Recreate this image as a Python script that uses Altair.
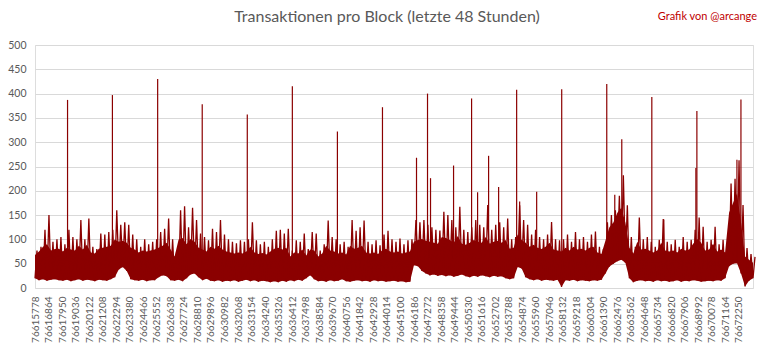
import altair as alt
import pandas as pd

START = 76615778
SPAN = 57600
STEP = 320

# upper edge of the dense band, one value every 320 blocks
upper = [
    77, 85, 120, 150, 95, 100, 105, 90, 120, 105,
    100, 140, 100, 143, 85, 80, 112, 110, 115, 120,
    160, 130, 135, 130, 110, 100, 85, 100, 90, 95,
    100, 115, 122, 143, 100, 75, 160, 168, 125, 165,
    140, 112, 105, 98, 122, 115, 140, 110, 100, 95,
    92, 98, 95, 100, 135, 98, 90, 95, 85, 100,
    118, 120, 112, 122, 77, 98, 95, 112, 80, 115,
    112, 77, 90, 139, 105, 100, 90, 95, 85, 140,
    118, 125, 139, 95, 90, 98, 88, 110, 118, 100,
    95, 102, 90, 98, 100, 140, 135, 140, 130, 125,
    120, 118, 157, 150, 140, 125, 167, 120, 115, 125,
    140, 130, 125, 171, 120, 130, 135, 125, 143, 100,
    105, 170, 140, 130, 110, 120, 105, 100, 110, 136,
    100, 98, 100, 110, 95, 115, 100, 105, 95, 110,
    116, 85, 80, 135, 150, 160, 190, 232, 170, 105,
    85, 145, 100, 105, 95, 85, 99, 142, 95, 90,
    99, 85, 105, 95, 99, 120, 145, 126, 95, 99,
    126, 90, 99, 85, 215, 225, 263, 171, 82, 70, 64,
]

# top of the solid part of the band
core = [
    68, 75, 85, 90, 77, 80, 81, 75, 83, 79,
    77, 87, 79, 89, 73, 71, 81, 83, 85, 87,
    100, 95, 97, 93, 83, 79, 73, 77, 75, 77,
    79, 83, 87, 93, 79, 65, 100, 103, 90, 101,
    95, 83, 79, 75, 85, 81, 87, 79, 75, 73,
    71, 73, 71, 75, 85, 73, 70, 72, 69, 75,
    81, 83, 79, 83, 65, 73, 71, 79, 67, 79,
    77, 65, 71, 87, 77, 75, 71, 73, 69, 87,
    81, 83, 87, 73, 71, 73, 70, 77, 81, 75,
    73, 75, 71, 73, 75, 95, 99, 101, 97, 95,
    93, 91, 105, 103, 99, 93, 107, 91, 89, 93,
    99, 95, 93, 105, 91, 95, 97, 93, 99, 81,
    83, 110, 99, 93, 85, 89, 83, 80, 85, 93,
    79, 77, 75, 83, 77, 85, 79, 81, 77, 83,
    85, 73, 70, 97, 125, 135, 155, 165, 135, 83,
    71, 95, 79, 81, 77, 73, 77, 93, 77, 75,
    77, 73, 81, 77, 79, 91, 101, 93, 77, 79,
    91, 75, 79, 73, 155, 175, 195, 135, 65, 58, 52,
]

# lower edge of the band
lower = [
    20, 16, 18, 15, 17, 18, 16, 15, 17, 14,
    16, 18, 15, 17, 16, 14, 17, 16, 15, 18,
    22, 38, 43, 35, 18, 16, 15, 17, 14, 16,
    16, 22, 26, 24, 16, 15, 17, 14, 20, 28,
    30, 22, 16, 19, 15, 14, 16, 13, 15, 14,
    16, 13, 15, 17, 14, 16, 13, 15, 14, 12,
    14, 12, 15, 13, 16, 14, 17, 15, 20, 26,
    18, 14, 15, 13, 16, 14, 15, 18, 14, 13,
    15, 16, 14, 15, 13, 16, 14, 15, 13, 14,
    15, 13, 14, 12, 13, 47, 45, 35, 30, 26,
    28, 25, 27, 24, 26, 23, 25, 28, 24, 22,
    25, 23, 26, 24, 22, 25, 23, 24, 20, 18,
    20, 43, 40, 22, 18, 16, 18, 15, 17, 16,
    15, 17, 2, 16, 15, 17, 14, 16, 15, 14,
    16, 15, 17, 30, 44, 50, 55, 58, 52, 20,
    12, 15, 16, 14, 15, 13, 16, 14, 15, 13,
    14, 16, 13, 15, 14, 16, 15, 13, 14, 15,
    14, 16, 15, 20, 45, 50, 51, 30, 3, 15, 20,
]

# isolated tall blocks
spike_blocks = [
    76618389, 76621988, 76625618, 76629193, 76632808, 76636423, 76640038,
    76643653, 76646384, 76647267, 76647508, 76649356, 76650802, 76651284,
    76652167, 76652971, 76654417, 76654658, 76656023, 76658032, 76661646,
    76662289, 76662851, 76665261, 76666225, 76668796, 76668876, 76672089,
    76672411,
]
spike_values = [
    387, 397, 430, 378, 357, 415, 322,
    372, 268, 400, 226, 252, 390, 197,
    272, 208, 408, 178, 198, 409, 420,
    192, 306, 393, 141, 247, 364, 264,
    388,
]

tick_blocks = [
    76615778, 76616864, 76617950, 76619036, 76620122, 76621208, 76622294,
    76623380, 76624466, 76625552, 76626638, 76627724, 76628810, 76629896,
    76630982, 76632068, 76633154, 76634240, 76635326, 76636412, 76637498,
    76638584, 76639670, 76640756, 76641842, 76642928, 76644014, 76645100,
    76646186, 76647272, 76648358, 76649444, 76650530, 76651616, 76652702,
    76653788, 76654874, 76655960, 76657046, 76658132, 76659218, 76660304,
    76661390, 76662476, 76663562, 76664648, 76665734, 76666820, 76667906,
    76668992, 76670078, 76671164, 76672250,
]
y_ticks = [0, 50, 100, 150, 200, 250, 300, 350, 400, 450, 500]

TITLE = "Transaktionen pro Block (letzte 48 Stunden)"
CREDIT = "Grafik von @arcange"
RED = "#8B0000"
GREY = "#595959"
FONT = "Lato"

blocks = [START + STEP * i for i in range(len(upper))]
band_df = pd.DataFrame({"block": blocks, "core": core, "lower": lower})

# zig-zag trace: each sample contributes its low and its high block
trace_rows = []
for b, lo, hi in zip(blocks, lower, upper):
    trace_rows.append({"block": b, "tx": lo})
    trace_rows.append({"block": b + STEP // 2, "tx": hi})
trace_df = pd.DataFrame(trace_rows)

spike_df = pd.DataFrame({
    "block": spike_blocks,
    "value": spike_values,
    "base": [60] * len(spike_blocks),
})

x_scale = alt.Scale(domain=[START, START + SPAN], nice=False, zero=False)
y_scale = alt.Scale(domain=[0, 500], nice=False)

x_axis = alt.Axis(values=tick_blocks, format="d", labelAngle=-90, grid=False,
                  ticks=False, domain=False, labelColor=GREY, labelFont=FONT,
                  labelFontSize=10, labelPadding=8, title=None,
                  labelOverlap=False, labelFlush=False, labelSeparation=0,
                  labelBound=False)
y_axis = alt.Axis(values=y_ticks, grid=True, gridColor="#D9D9D9", gridWidth=1,
                  domain=False, ticks=False, labelColor=GREY, labelFont=FONT,
                  labelFontSize=10.5, labelPadding=9, title=None)

band = alt.Chart(band_df).mark_area(color=RED, opacity=1, interpolate="linear").encode(
    x=alt.X("block:Q", scale=x_scale, axis=x_axis),
    y=alt.Y("core:Q", scale=y_scale, axis=y_axis),
    y2="lower:Q",
)
trace = alt.Chart(trace_df).mark_line(color=RED, strokeWidth=1.3, interpolate="linear").encode(
    x=alt.X("block:Q", scale=x_scale, axis=x_axis),
    y=alt.Y("tx:Q", scale=y_scale, axis=y_axis),
    order="block:Q",
)
spikes = alt.Chart(spike_df).mark_rule(color=RED, strokeWidth=1.2).encode(
    x=alt.X("block:Q", scale=x_scale, axis=x_axis),
    y=alt.Y("value:Q", scale=y_scale, axis=y_axis),
    y2="base:Q",
)
title = alt.Chart(pd.DataFrame({"t": [TITLE]})).mark_text(
    color=GREY, font=FONT, fontSize=16, align="center", baseline="middle"
).encode(x=alt.value(352), y=alt.value(-28), text="t:N")
credit = alt.Chart(pd.DataFrame({"t": [CREDIT]})).mark_text(
    color="#C00000", font=FONT, fontSize=11, align="right", baseline="middle"
).encode(x=alt.value(722), y=alt.value(-28), text="t:N")

chart = alt.layer(band, trace, spikes, title, credit).properties(
    width=718,
    height=243,
    autosize="none",
    padding={"left": 35, "top": 45, "right": 15, "bottom": 61},
).configure_view(stroke=None).configure(background="white").configure_axisX(
    labelOverlap=False
)

chart.save("out.html", embed_options={"renderer": "svg", "actions": False})
